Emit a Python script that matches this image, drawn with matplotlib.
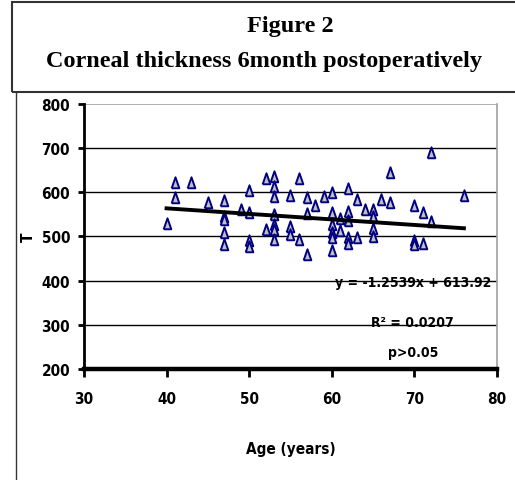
import matplotlib
matplotlib.use("Agg")
import matplotlib.pyplot as plt
from matplotlib.patches import Rectangle
from matplotlib.lines import Line2D
from matplotlib import font_manager
import numpy as np

# ages and corneal thickness
age = [40, 41, 41, 43, 45,
       47, 47, 47, 47, 47, 49,
       50, 50, 50, 50, 52, 52,
       53, 53, 53, 53, 53, 53, 53,
       55, 55, 55, 56, 56, 57, 57, 57, 58, 59,
       60, 60, 60, 60, 60, 60, 61, 61,
       62, 62, 62, 62, 62, 63, 63, 64,
       65, 65, 65, 65, 66, 67, 67,
       70, 70, 70, 71, 71, 72, 72, 76]
thick = [528, 620, 587, 620, 576,
         581, 545, 537, 507, 481, 559,
         604, 553, 489, 477, 630, 515,
         634, 612, 589, 548, 526, 515, 491,
         591, 522, 503, 630, 491, 588, 552, 459, 570, 589,
         598, 554, 526, 507, 496, 467, 539, 513,
         608, 556, 535, 496, 483, 583, 496, 561,
         559, 544, 518, 499, 583, 644, 576,
         570, 489, 480, 553, 484, 688, 533, 591]

slope = -1.2539
intercept = 613.92
r2 = 0.0207

xticks = [30, 40, 50, 60, 70, 80]
yticks = [200, 300, 400, 500, 600, 700, 800]

cond = [f for f in font_manager.fontManager.ttflist
        if 'Condensed' in f.fname and 'Bold' in f.fname and 'DejaVuSans' in f.fname
        and 'Oblique' not in f.fname]
if cond:
    fp = dict(fontproperties=font_manager.FontProperties(fname=cond[0].fname, size=11))
    fp_note = dict(fontproperties=font_manager.FontProperties(fname=cond[0].fname, size=10))
else:
    fp = dict(family='Liberation Sans', fontweight='bold', fontsize=10.5)
    fp_note = dict(family='Liberation Sans', fontweight='bold', fontsize=9.5)

fig = plt.figure(figsize=(5.15, 4.81), dpi=100)
ax = fig.add_axes([0.163, 0.2308, 0.802, 0.5509])

for y in yticks[1:-1]:
    ax.axhline(y, color='black', lw=1.0, zorder=1)
ax.axhline(800, color='#a0a0a0', lw=1.2, zorder=1)

tri = [(-0.8, -1.0), (0.8, -1.0), (0.0, 1.3), (-0.8, -1.0)]
ax.scatter(age, thick, marker=tri, s=80, facecolor='#c0c0c0',
           edgecolor='#000080', linewidths=1.4, zorder=3)

xs = np.array([min(age), max(age)])
ax.plot(xs, slope * xs + intercept, color='black', lw=2.8, zorder=4)

ax.set_xlim(30, 80)
ax.set_ylim(200, 800)
ax.set_xticks(xticks)
ax.set_yticks(yticks)
ax.set_xticklabels([str(v) for v in xticks], **fp)
ax.set_yticklabels([str(v) for v in yticks], **fp)
ax.tick_params(axis='x', direction='out', length=6, width=2, pad=10)
ax.tick_params(axis='y', direction='out', length=4, width=2, pad=6)

ax.spines['left'].set_linewidth(2)
ax.spines['bottom'].set_linewidth(3.2)
ax.spines['top'].set_visible(False)
ax.spines['right'].set_color('#a0a0a0')
ax.spines['right'].set_linewidth(1.2)

ax.set_xlabel('Age (years)', labelpad=25, **fp)
ax.set_ylabel('T', labelpad=4, **fp)

tx = 69.8
ax.text(tx, 397, 'y = %.4fx + %.2f' % (slope, intercept), ha='center', va='center',
        zorder=5, **fp_note)
ax.text(tx, 306, 'R² = %.4f' % r2, ha='center', va='center', zorder=5, **fp_note)
ax.text(tx, 238, 'p>0.05', ha='center', va='center', zorder=5, **fp_note)

# title box and chart frame
fig.add_artist(Rectangle((0.0227, 0.806), 1.05, 0.187, transform=fig.transFigure,
                         fill=False, edgecolor='#333333', lw=1.5))
fig.add_artist(Line2D([0.032, 0.032], [0.0, 0.806], transform=fig.transFigure,
                      color='#333333', lw=1.0))
fig.text(0.563, 0.934, 'Figure 2', ha='center', va='baseline',
         family='Liberation Serif', fontweight='bold', fontsize=17.5)
fig.text(0.512, 0.861, 'Corneal thickness 6month postoperatively', ha='center',
         va='baseline', family='Liberation Serif', fontweight='bold', fontsize=17.5)

fig.savefig('out.png', dpi=100)
